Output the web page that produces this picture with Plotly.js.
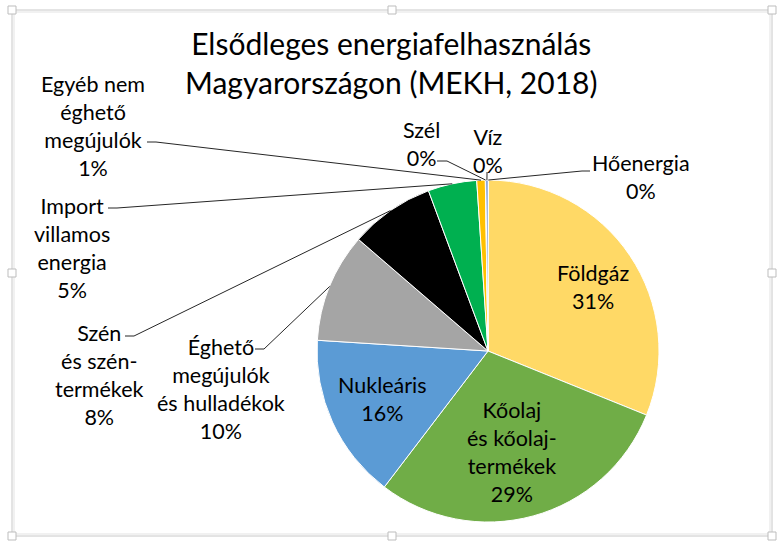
<!DOCTYPE html>
<html>
<head>
<meta charset="utf-8">
<script src="https://cdn.plot.ly/plotly-3.0.1.min.js"></script>
<style>html,body{margin:0;padding:0;background:#fff;}#chart{width:780px;height:548px;}</style>
</head>
<body>
<div id="chart"></div>
<script>
// ---- data (clockwise from 12 o'clock) ----
var labels = ['Hőenergia', 'Földgáz', 'Kőolaj<br>és kőolaj-<br>termékek', 'Nukleáris',
              'Éghető<br>megújulók<br>és hulladékok', 'Szén<br>és szén-<br>termékek',
              'Import<br>villamos<br>energia', 'Egyéb nem<br>éghető<br>megújulók', 'Szél', 'Víz'];
var values = [0.05, 31.0, 29.2, 15.6, 10.3, 8.0, 4.6, 0.8, 0.05, 0.2];
var colors = ['#ED7D31', '#FFD966', '#70AD47', '#5B9BD5', '#A5A5A5', '#000000',
              '#00B050', '#FFC000', '#9E480E', '#4472C4'];
var insideSlices = [false, false, false, true, false, false, false, false, false, false];

// ---- layout helpers ----
var W = 780, H = 548;
var domX = [0.4064, 0.8449], domY = [0.0474, 0.6715];
function px(x) { return x / W; }
function py(y) { return 1 - y / H; }

var total = values.reduce(function (a, b) { return a + b; }, 0);
var pctText = values.map(function (v) { return Math.round(100 * v / total) + '%'; });

// label placement (text centre; leader-line anchor + short tick end) in px
var placed = {
  0: {tx: 641, ty: 177, ax: 590, ay: 171, bx: 582, by: 171},
  1: {tx: 593, ty: 287},
  2: {tx: 512, ty: 452},
  4: {tx: 221, ty: 389, ax: 255, ay: 349, bx: 264, by: 349},
  5: {tx: 99,  ty: 375, ax: 125, ay: 336, bx: 134, by: 336},
  6: {tx: 72,  ty: 248, ax: 108, ay: 208, bx: 117, by: 208},
  7: {tx: 93,  ty: 126, ax: 147, ay: 142, bx: 156, by: 142},
  8: {tx: 421, ty: 144, ax: 437, ay: 161, bx: 447, by: 161},
  9: {tx: 488, ty: 151, ax: 487, ay: 172, bx: 487, by: 174}
};

var cx = (domX[0] + domX[1]) / 2 * W;
var cy = (1 - (domY[0] + domY[1]) / 2) * H;
var r = Math.min((domX[1] - domX[0]) * W, (domY[1] - domY[0]) * H) / 2;
var FONT = 'Lato, sans-serif';

var annotations = [];
var shapes = [];
var cum = 0;
values.forEach(function (v, i) {
  var mid = (cum + v / 2) / total;
  cum += v;
  var o = placed[i];
  if (!o) return;
  annotations.push({
    xref: 'paper', yref: 'paper', x: px(o.tx), y: py(o.ty),
    xanchor: 'center', yanchor: 'middle', showarrow: false, align: 'center',
    text: labels[i] + '<br>' + pctText[i],
    font: {family: FONT, size: 21.5, color: '#000'}
  });
  if (o.ax === undefined) return;
  var th = 2 * Math.PI * mid;
  var tipX = cx + r * Math.sin(th), tipY = cy - r * Math.cos(th);
  shapes.push({
    type: 'path', xref: 'paper', yref: 'paper',
    path: 'M' + px(o.ax) + ',' + py(o.ay) + ' L' + px(o.bx) + ',' + py(o.by) +
          ' L' + px(tipX) + ',' + py(tipY),
    line: {color: '#262626', width: 1}
  });
});

// frame (chart area border and selection handles)
shapes.unshift({type: 'rect', xref: 'paper', yref: 'paper',
  x0: px(12), x1: px(772), y0: py(10), y1: py(536),
  line: {color: '#C8C8C8', width: 1}, fillcolor: 'rgba(0,0,0,0)'});
shapes.unshift({type: 'rect', xref: 'paper', yref: 'paper',
  x0: px(14), x1: px(770), y0: py(12), y1: py(534),
  line: {color: '#E3E3E3', width: 1}, fillcolor: 'rgba(0,0,0,0)'});
[[12, 10], [392, 10], [772, 10], [12, 273], [772, 273], [12, 536], [392, 536], [772, 536]].forEach(function (h) {
  shapes.push({type: 'rect', xref: 'paper', yref: 'paper',
    x0: px(h[0] - 4), x1: px(h[0] + 4), y0: py(h[1] - 4), y1: py(h[1] + 4),
    line: {color: '#BDBDBD', width: 1}, fillcolor: '#FFFFFF'});
});

var trace = {
  type: 'pie',
  labels: labels,
  values: values,
  sort: false,
  direction: 'clockwise',
  rotation: 0,
  domain: {x: domX, y: domY},
  marker: {colors: colors, line: {color: '#FFFFFF', width: 1}},
  text: labels.map(function (l, i) { return insideSlices[i] ? l + '<br>' + pctText[i] : ''; }),
  textinfo: 'text',
  textposition: insideSlices.map(function (b) { return b ? 'inside' : 'none'; }),
  insidetextorientation: 'horizontal',
  insidetextfont: {family: FONT, size: 21.5, color: '#000'},
  hoverinfo: 'label+percent',
  showlegend: false
};

var layout = {
  width: W, height: H,
  margin: {l: 0, r: 0, t: 0, b: 0},
  paper_bgcolor: '#FFFFFF',
  showlegend: false,
  annotations: annotations.concat([{
    xref: 'paper', yref: 'paper', x: px(391), y: py(62),
    xanchor: 'center', yanchor: 'middle', showarrow: false, align: 'center',
    text: 'Elsődleges energiafelhasználás<br>Magyarországon (MEKH, 2018)',
    font: {family: FONT, size: 30, color: '#000'}
  }]),
  shapes: shapes
};

Plotly.newPlot('chart', [trace], layout, {displayModeBar: false, staticPlot: true});
</script>
</body>
</html>
